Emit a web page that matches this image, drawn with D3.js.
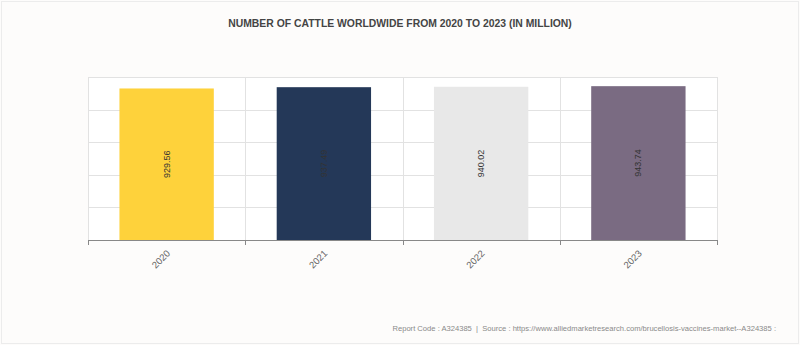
<!DOCTYPE html>
<html>
<head>
<meta charset="utf-8">
<script src="https://cdn.jsdelivr.net/npm/d3@7"></script>
<style>
  html, body { margin: 0; padding: 0; background: #fdfcfb; }
  svg { display: block; font-family: "Liberation Sans", Arial, sans-serif; }
</style>
</head>
<body>
<svg id="chart" width="800" height="345"></svg>
<script>
// Cattle headcount by year, in million
const years = ["2020", "2021", "2022", "2023"];
const cattle = [929.56, 937.49, 940.02, 943.74];
const barColors = ["#fed23b", "#243858", "#e8e8e8", "#7a6b82"];
const yTicks = [0, 200, 400, 600, 800, 1000];

const title = "NUMBER OF CATTLE WORLDWIDE FROM 2020 TO 2023 (IN MILLION)";
const footer = "Report Code : A324385  |  Source : https://www.alliedmarketresearch.com/brucellosis-vaccines-market--A324385 :";

const W = 800, H = 345;
const margin = { top: 77, right: 83, bottom: 105, left: 88 };
const innerW = W - margin.left - margin.right;
const innerH = H - margin.top - margin.bottom;

const svg = d3.select("#chart");

// faint frame around the whole card
svg.append("rect")
  .attr("x", 1.5).attr("y", 1.5)
  .attr("width", W - 3).attr("height", H - 3)
  .attr("fill", "#fdfcfb")
  .attr("stroke", "#ececec");

svg.append("text")
  .attr("x", W / 2).attr("y", 27)
  .attr("text-anchor", "middle")
  .attr("font-size", 10.4)
  .attr("font-weight", "bold")
  .attr("fill", "#444")
  .text(title);

const g = svg.append("g").attr("transform", `translate(${margin.left},${margin.top})`);

const y = d3.scaleLinear().domain([0, 1000]).range([innerH, 0]);

// each category owns an equal slot; bars fill 60% of it
const slot = d3.scaleBand().domain(years).range([0, innerW]).padding(0);
const bw = slot.bandwidth() * 0.6;
const cx = d => slot(d) + slot.bandwidth() / 2;
const bounds = years.map(d => slot(d)).concat([innerW]);

// plot background
g.append("rect")
  .attr("width", innerW).attr("height", innerH)
  .attr("fill", "#ffffff");

// horizontal grid
g.append("g")
  .selectAll("line")
  .data(yTicks)
  .join("line")
  .attr("x1", 0).attr("x2", innerW)
  .attr("y1", d => Math.round(y(d)) + 0.5)
  .attr("y2", d => Math.round(y(d)) + 0.5)
  .attr("stroke", "#e2e2e2");

// vertical grid at category boundaries
g.append("g")
  .selectAll("line")
  .data(bounds)
  .join("line")
  .attr("x1", d => Math.round(d) + 0.5).attr("x2", d => Math.round(d) + 0.5)
  .attr("y1", 0).attr("y2", innerH)
  .attr("stroke", "#e2e2e2");

// bars
g.append("g")
  .selectAll("rect")
  .data(years)
  .join("rect")
  .attr("x", d => cx(d) - bw / 2)
  .attr("width", bw)
  .attr("y", (d, i) => y(cattle[i]))
  .attr("height", (d, i) => innerH - y(cattle[i]))
  .attr("fill", (d, i) => barColors[i]);

// value labels, vertical, centred inside each bar
g.append("g")
  .selectAll("text")
  .data(years)
  .join("text")
  .attr("transform", (d, i) => `translate(${cx(d) + 3},${(y(cattle[i]) + innerH) / 2}) rotate(-90)`)
  .attr("text-anchor", "middle")
  .attr("font-size", 9)
  .attr("fill", "#333")
  .text((d, i) => cattle[i].toFixed(2));

// bottom axis
const axisG = g.append("g").attr("transform", `translate(0,${innerH})`);
axisG.append("line")
  .attr("x1", 0).attr("x2", innerW)
  .attr("y1", 0.5).attr("y2", 0.5)
  .attr("stroke", "#888");
axisG.selectAll(".tick")
  .data(bounds)
  .join("line")
  .attr("class", "tick")
  .attr("x1", d => Math.round(d) + 0.5).attr("x2", d => Math.round(d) + 0.5)
  .attr("y1", 0).attr("y2", 5)
  .attr("stroke", "#888");
axisG.selectAll(".lbl")
  .data(years)
  .join("text")
  .attr("class", "lbl")
  .attr("transform", d => `translate(${cx(d) + 4},${14}) rotate(-45)`)
  .attr("text-anchor", "end")
  .attr("font-size", 9.5)
  .attr("fill", "#666")
  .text(d => d);

// source line
svg.append("text")
  .attr("x", 776).attr("y", 331)
  .attr("text-anchor", "end")
  .attr("font-size", 7.6)
  .attr("fill", "#8a8a8a")
  .style("white-space", "pre")
  .text(footer);
</script>
</body>
</html>
